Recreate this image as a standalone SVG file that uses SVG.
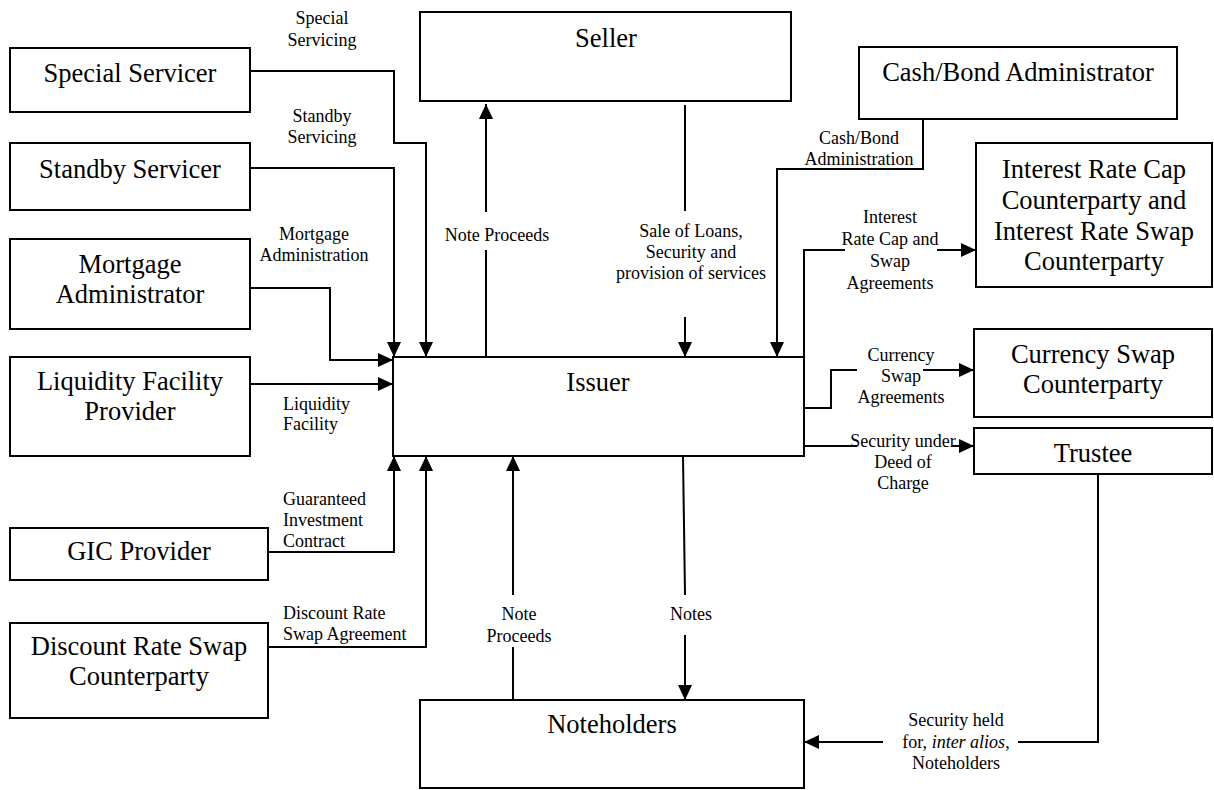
<svg xmlns="http://www.w3.org/2000/svg" width="1214" height="790" viewBox="0 0 1214 790">
<style>
.box{fill:#fff;stroke:#000;stroke-width:2}
.n{font-family:"Liberation Serif","Times New Roman",serif;font-size:26.5px;fill:#000;text-anchor:middle}
.l{font-family:"Liberation Serif","Times New Roman",serif;font-size:18px;fill:#000;text-anchor:middle}
.ls{font-family:"Liberation Serif","Times New Roman",serif;font-size:18px;fill:#000;text-anchor:start}
.c{fill:none;stroke:#000;stroke-width:2}
.a{marker-end:url(#arr)}
</style>
<defs>
<marker id="arr" markerUnits="userSpaceOnUse" markerWidth="15" markerHeight="14" refX="15" refY="7" orient="auto">
<path d="M0,0 L15,7 L0,14 z" fill="#000"/>
</marker>
</defs>
<rect width="1214" height="790" fill="#fff"/>
<g id="connectors">
<polyline class="c a" points="250,71 394,71 394,143 426,143 426,357"/>
<polyline class="c a" points="250,168 394,168 394,357"/>
<polyline class="c a" points="250,288 330,288 330,360 393,360"/>
<polyline class="c a" points="250,384 393,384"/>
<polyline class="c a" points="268,552 394,552 394,456"/>
<polyline class="c a" points="268,647 426,647 426,456"/>
<polyline class="c" points="513,700 513,647"/>
<polyline class="c a" points="513,595 513,456"/>
<polyline class="c" points="683,456 685,595"/>
<polyline class="c a" points="685,635 685,700"/>
<polyline class="c" points="486,357 486,250"/>
<polyline class="c a" points="486,212 486,104"/>
<polyline class="c" points="685,105 685,211"/>
<polyline class="c a" points="685,317 685,357"/>
<polyline class="c a" points="923,119 923,169 777,169 777,357"/>
<polyline class="c" points="804,357 804,250 845,250"/>
<polyline class="c a" points="937,250 976,250"/>
<polyline class="c" points="804,408 831,408 831,370 857,370"/>
<polyline class="c a" points="923,370 974,370"/>
<polyline class="c" points="804,446 857,446"/>
<polyline class="c a" points="952,446 974,446"/>
<polyline class="c" points="1098,474 1098,742 1018,742"/>
<polyline class="c a" points="883,742 804,742"/>
</g>
<g id="labels">
<text class="l" x="322" y="24">Special</text>
<text class="l" x="322" y="46">Servicing</text>
<text class="l" x="322" y="122">Standby</text>
<text class="l" x="322" y="143">Servicing</text>
<text class="l" x="314" y="240">Mortgage</text>
<text class="l" x="314" y="261">Administration</text>
<text class="ls" x="283" y="410">Liquidity</text>
<text class="ls" x="283" y="430">Facility</text>
<text class="ls" x="283" y="505">Guaranteed</text>
<text class="ls" x="283" y="526">Investment</text>
<text class="ls" x="283" y="547">Contract</text>
<text class="ls" x="283" y="619">Discount Rate</text>
<text class="ls" x="283" y="640">Swap Agreement</text>
<text class="l" x="497" y="241">Note Proceeds</text>
<text class="l" x="691" y="237">Sale of Loans,</text>
<text class="l" x="691" y="258">Security and</text>
<text class="l" x="691" y="279">provision of services</text>
<text class="l" x="859" y="144">Cash/Bond</text>
<text class="l" x="859" y="165">Administration</text>
<text class="l" x="890" y="223">Interest</text>
<text class="l" x="890" y="245">Rate Cap  and</text>
<text class="l" x="890" y="267">Swap</text>
<text class="l" x="890" y="289">Agreements</text>
<text class="l" x="901" y="361">Currency</text>
<text class="l" x="901" y="382">Swap</text>
<text class="l" x="901" y="403">Agreements</text>
<text class="l" x="903" y="447">Security under</text>
<text class="l" x="903" y="468">Deed of</text>
<text class="l" x="903" y="489">Charge</text>
<text class="l" x="519" y="620">Note</text>
<text class="l" x="519" y="642">Proceeds</text>
<text class="l" x="691" y="620">Notes</text>
<text class="l" x="956" y="726">Security held</text>
<text class="l" x="956" y="748">for, <tspan font-style="italic">inter alios</tspan>,</text>
<text class="l" x="956" y="769">Noteholders</text>
</g>
<g id="special-servicer"><rect class="box" x="10" y="48" width="240" height="64"/><text class="n" x="130" y="82">Special Servicer</text></g>
<g id="standby-servicer"><rect class="box" x="10" y="143" width="240" height="67"/><text class="n" x="130" y="178">Standby Servicer</text></g>
<g id="mortgage-administrator"><rect class="box" x="10" y="239" width="240" height="90"/><text class="n" x="130" y="273">Mortgage</text><text class="n" x="130" y="303">Administrator</text></g>
<g id="liquidity-facility-provider"><rect class="box" x="10" y="357" width="240" height="99"/><text class="n" x="130" y="390">Liquidity Facility</text><text class="n" x="130" y="420">Provider</text></g>
<g id="gic-provider"><rect class="box" x="10" y="528" width="258" height="52"/><text class="n" x="139" y="560">GIC Provider</text></g>
<g id="discount-rate-swap-counterparty"><rect class="box" x="10" y="623" width="258" height="95"/><text class="n" x="139" y="655">Discount Rate Swap</text><text class="n" x="139" y="685">Counterparty</text></g>
<g id="seller"><rect class="box" x="420" y="12" width="371" height="89"/><text class="n" x="606" y="47">Seller</text></g>
<g id="issuer"><rect class="box" x="393" y="357" width="411" height="99"/><text class="n" x="598" y="391">Issuer</text></g>
<g id="noteholders"><rect class="box" x="420" y="700" width="384" height="88"/><text class="n" x="612" y="733">Noteholders</text></g>
<g id="cash-bond-administrator"><rect class="box" x="859" y="47" width="318" height="72"/><text class="n" x="1018" y="81">Cash/Bond Administrator</text></g>
<g id="interest-rate-counterparty"><rect class="box" x="976" y="143" width="236" height="144"/><text class="n" x="1094" y="178">Interest Rate Cap</text><text class="n" x="1094" y="209">Counterparty  and</text><text class="n" x="1094" y="240">Interest Rate Swap</text><text class="n" x="1094" y="270">Counterparty</text></g>
<g id="currency-swap-counterparty"><rect class="box" x="974" y="329" width="238" height="88"/><text class="n" x="1093" y="363">Currency Swap</text><text class="n" x="1093" y="393">Counterparty</text></g>
<g id="trustee"><rect class="box" x="974" y="428" width="238" height="46"/><text class="n" x="1093" y="462">Trustee</text></g>
</svg>
